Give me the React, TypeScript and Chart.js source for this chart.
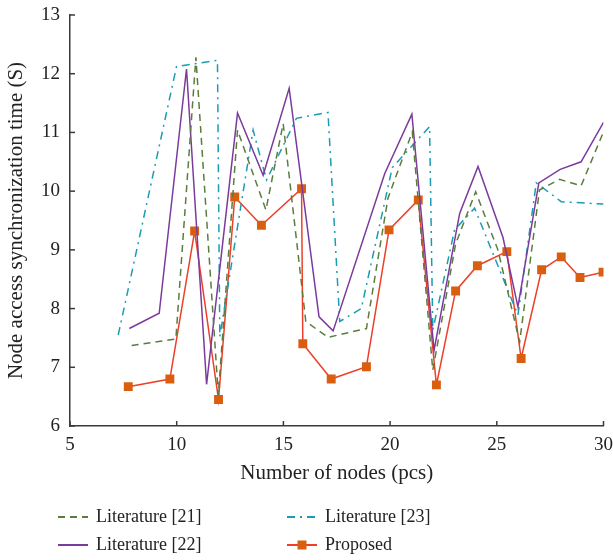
import React, { useEffect, useRef } from "react";
import { Chart, registerables } from "chart.js";

Chart.register(...registerables);

const lit21X = [7.89, 9.96, 10.9, 11.95, 12.85, 14.18, 14.99, 16.05, 17.09, 18.89, 19.9, 21.04, 22.0, 23.07, 24.01, 25.05, 26.07, 27.0, 27.94, 28.95, 30.0];
const lit21Y = [7.37, 7.48, 12.28, 6.53, 11.04, 9.68, 11.15, 7.78, 7.51, 7.66, 9.88, 11.01, 6.95, 9.1, 9.99, 9.0, 7.43, 10.02, 10.2, 10.09, 11.01];

const lit22X = [7.78, 9.18, 10.46, 11.4, 12.85, 14.05, 15.27, 16.67, 17.33, 19.75, 21.02, 22.06, 23.26, 24.12, 25.29, 25.99, 26.97, 27.97, 28.95, 30.0];
const lit22Y = [7.66, 7.92, 12.08, 6.71, 11.33, 10.27, 11.75, 7.86, 7.62, 10.3, 11.31, 7.29, 9.62, 10.42, 9.21, 8.03, 10.14, 10.37, 10.5, 11.17];

const lit23X = [7.26, 9.99, 11.91, 12.02, 13.58, 14.21, 15.61, 17.09, 17.64, 18.65, 20.1, 21.85, 22.0, 23.02, 23.96, 25.99, 26.85, 28.02, 30.0];
const lit23Y = [7.55, 12.12, 12.23, 7.52, 11.04, 10.19, 11.24, 11.34, 7.78, 8.0, 10.4, 11.1, 7.63, 9.34, 9.71, 7.89, 10.14, 9.82, 9.78];

const propX = [7.73, 9.68, 10.84, 11.96, 12.72, 13.97, 15.85, 15.91, 17.24, 18.89, 19.95, 21.32, 22.17, 23.07, 24.09, 25.47, 26.14, 27.1, 28.02, 28.9, 29.98];
const propY = [6.67, 6.8, 9.32, 6.45, 9.9, 9.42, 10.04, 7.4, 6.8, 7.01, 9.34, 9.85, 6.7, 8.3, 8.73, 8.97, 7.15, 8.66, 8.88, 8.53, 8.62];

const seriesNames = ["Literature [21]", "Literature [22]", "Literature [23]", "Proposed"];
const xTitle = "Number of nodes (pcs)";
const yTitle = "Node access synchronization time (S)";

const FONT = "'Liberation Serif', 'DejaVu Serif', serif";
const AXIS_COLOR = "#3a3a3a";

function pts(xs: number[], ys: number[]) {
  return xs.map((x, i) => ({ x, y: ys[i] }));
}

const inwardTicks = {
  id: "inwardTicks",
  afterDraw(chart: any) {
    const { ctx, scales, chartArea } = chart;
    const x = scales.x;
    const y = scales.y;
    ctx.save();
    ctx.strokeStyle = AXIS_COLOR;
    ctx.lineWidth = 1.5;
    x.ticks.forEach((t: any) => {
      const px = x.getPixelForValue(t.value);
      ctx.beginPath();
      ctx.moveTo(px, chartArea.bottom);
      ctx.lineTo(px, chartArea.bottom - 5);
      ctx.stroke();
    });
    y.ticks.forEach((t: any) => {
      const py = y.getPixelForValue(t.value);
      ctx.beginPath();
      ctx.moveTo(chartArea.left, py);
      ctx.lineTo(chartArea.left + 5, py);
      ctx.stroke();
    });
    ctx.restore();
  },
};

const gridLegend = {
  id: "gridLegend",
  afterDraw(chart: any) {
    const { ctx } = chart;
    const ds = chart.data.datasets;
    const positions = [
      { x: 58, y: 517 },
      { x: 58, y: 545 },
      { x: 287, y: 517 },
      { x: 287, y: 545 },
    ];
    ctx.save();
    ds.forEach((d: any, i: number) => {
      const p = positions[i];
      ctx.beginPath();
      ctx.strokeStyle = d.borderColor;
      ctx.lineWidth = 2;
      ctx.setLineDash(d.borderDash || []);
      ctx.moveTo(p.x, p.y);
      ctx.lineTo(p.x + 30, p.y);
      ctx.stroke();
      ctx.setLineDash([]);
      if (d.pointRadius > 0) {
        ctx.fillStyle = d.pointBackgroundColor;
        ctx.fillRect(p.x + 15 - 4.5, p.y - 4.5, 9, 9);
      }
      ctx.fillStyle = "#222";
      ctx.font = `18px ${FONT}`;
      ctx.textBaseline = "middle";
      ctx.textAlign = "left";
      ctx.fillText(d.label, p.x + 38, p.y);
    });
    ctx.restore();
  },
};

export default function App() {
  const ref = useRef<HTMLCanvasElement | null>(null);
  useEffect(() => {
    if (!ref.current) return;
    const chart = new Chart(ref.current, {
      type: "scatter",
      data: {
        datasets: [
          {
            label: seriesNames[0],
            data: pts(lit21X, lit21Y),
            showLine: true,
            borderColor: "#5a7d3c",
            borderWidth: 1.5,
            borderDash: [7, 5],
            pointRadius: 0,
            tension: 0,
          },
          {
            label: seriesNames[1],
            data: pts(lit22X, lit22Y),
            showLine: true,
            borderColor: "#7b3b9c",
            borderWidth: 1.5,
            pointRadius: 0,
            tension: 0,
          },
          {
            label: seriesNames[2],
            data: pts(lit23X, lit23Y),
            showLine: true,
            borderColor: "#1a9cb3",
            borderWidth: 1.5,
            borderDash: [8, 5, 2, 5],
            pointRadius: 0,
            tension: 0,
          },
          {
            label: seriesNames[3],
            data: pts(propX, propY),
            showLine: true,
            borderColor: "#ec4029",
            borderWidth: 1.5,
            pointStyle: "rect",
            pointRadius: 6.3,
            pointBackgroundColor: "#d95e10",
            pointBorderColor: "#d95e10",
            pointBorderWidth: 0,
            tension: 0,
          },
        ],
      },
      options: {
        animation: false,
        responsive: false,
        layout: { padding: { left: 0, right: 9, top: 15, bottom: 74 } },
        plugins: { legend: { display: false }, tooltip: { enabled: false } },
        scales: {
          x: {
            type: "linear",
            min: 5,
            max: 30,
            ticks: { stepSize: 5, color: "#222", font: { family: FONT, size: 19 }, padding: 0 },
            grid: { display: false },
            border: { display: true, color: AXIS_COLOR, width: 1.5 },
            title: { display: true, text: xTitle, color: "#222", font: { family: FONT, size: 21 }, padding: 0 },
            afterFit: (s: any) => { s.height = 60; },
          },
          y: {
            type: "linear",
            min: 6,
            max: 13,
            ticks: { stepSize: 1, color: "#222", font: { family: FONT, size: 19 }, padding: 2 },
            grid: { display: false },
            border: { display: true, color: AXIS_COLOR, width: 1.5 },
            title: { display: true, text: yTitle, color: "#222", font: { family: FONT, size: 21 }, padding: { top: 4, bottom: 0 } },
            afterFit: (s: any) => { s.width = 70; },
          },
        },
      },
      plugins: [inwardTicks, gridLegend],
    } as any);
    return () => chart.destroy();
  }, []);
  return (
    <div style={{ position: "fixed", left: 0, top: 0, width: 613, height: 560 }}>
      <canvas ref={ref} width={613} height={560} style={{ display: "block" }} />
    </div>
  );
}
